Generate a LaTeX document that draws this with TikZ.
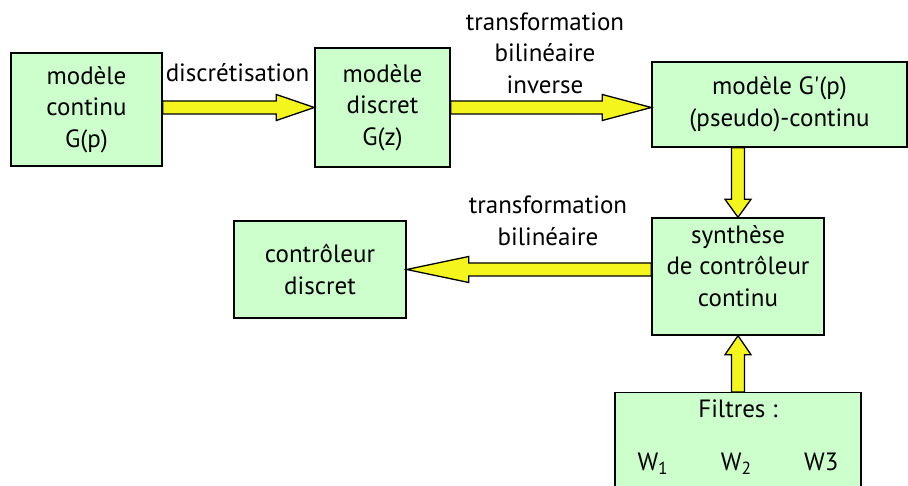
\documentclass[tikz,border=0pt]{standalone}
\usepackage{fontspec}
\setmainfont{PT Sans}
\usetikzlibrary{calc,positioning}
\definecolor{boxgreen}{RGB}{204,255,204}
\definecolor{arryellow}{RGB}{245,245,30}
% big outlined arrow from #2 to #3, head length #1
\newcommand\bigarrow[3][48pt]{%
 \coordinate (h) at ($(#3)!#1!(#2)$);
 \draw[yarr] ($(#2)!6.5pt!90:(#3)$) -- ($(h)!6.5pt!-90:(#2)$)
 -- ($(h)!13pt!-90:(#2)$) -- (#3) -- ($(h)!13pt!90:(#2)$)
 -- ($(h)!6.5pt!90:(#2)$) -- ($(#2)!6.5pt!-90:(#3)$) -- cycle;}

\begin{document}
\begin{tikzpicture}[
 box/.style={draw=black,line width=1.4pt,fill=boxgreen,align=center,
 inner sep=0pt,font=\fontsize{25}{31.5}\selectfont},
 lbl/.style={align=center,font=\fontsize{25}{31.5}\selectfont},
 yarr/.style={draw=black,line width=1.3pt,fill=arryellow,line join=miter}]
\useasboundingbox (0,0) rectangle (908pt,-486pt);
\node[box,minimum width=151pt,minimum height=113pt] (g) at (86.5pt,-109.5pt)
 {modèle\\continu\\G(p)};
\node[box,minimum width=135pt,minimum height=119pt] (d) at (382.5pt,-107.5pt)
 {modèle\\discret\\G(z)};
\node[box,minimum width=255pt,minimum height=85pt] (p) at (779.5pt,-104.5pt)
 {modèle G\textquotesingle(p)\\(pseudo)-continu};
\node[box,minimum width=172pt,minimum height=117pt,text depth=21pt] (s)
 at (738pt,-276.5pt) {synthèse\\de contrôleur\\continu};
\node[box,minimum width=172pt,minimum height=97pt] (c) at (320pt,-269.5pt)
 {contrôleur\\discret};
\node[box,minimum width=246pt,inner ysep=7pt,text depth=40pt,anchor=north] (f)
 at (738pt,-392pt) {Filtres :\\[22pt]
 \makebox[201pt]{W\textsubscript{1}\hfill W\textsubscript{2}\hfill W3}};
\node[lbl] (l1) at (237.5pt,-73pt) {discrétisation};
\node[lbl] (l2) at (545pt,-53pt) {transformation\\bilinéaire\\inverse};
\node[lbl] (l3) at (548pt,-221pt) {transformation\\bilinéaire};
\coordinate (a1) at (g.east |- d.west);
\coordinate (a2) at (p.west |- d.east);
\coordinate (a3) at (s.north |- p.south);
\coordinate (a4) at (s.west |- c.east);
\bigarrow[38pt]{a1}{d.west}
\bigarrow[49pt]{d.east}{a2}
\bigarrow[18pt]{a3}{s.north}
\bigarrow[62pt]{a4}{c.east}
\bigarrow[19pt]{f.north}{s.south}
\end{tikzpicture}
\end{document}
